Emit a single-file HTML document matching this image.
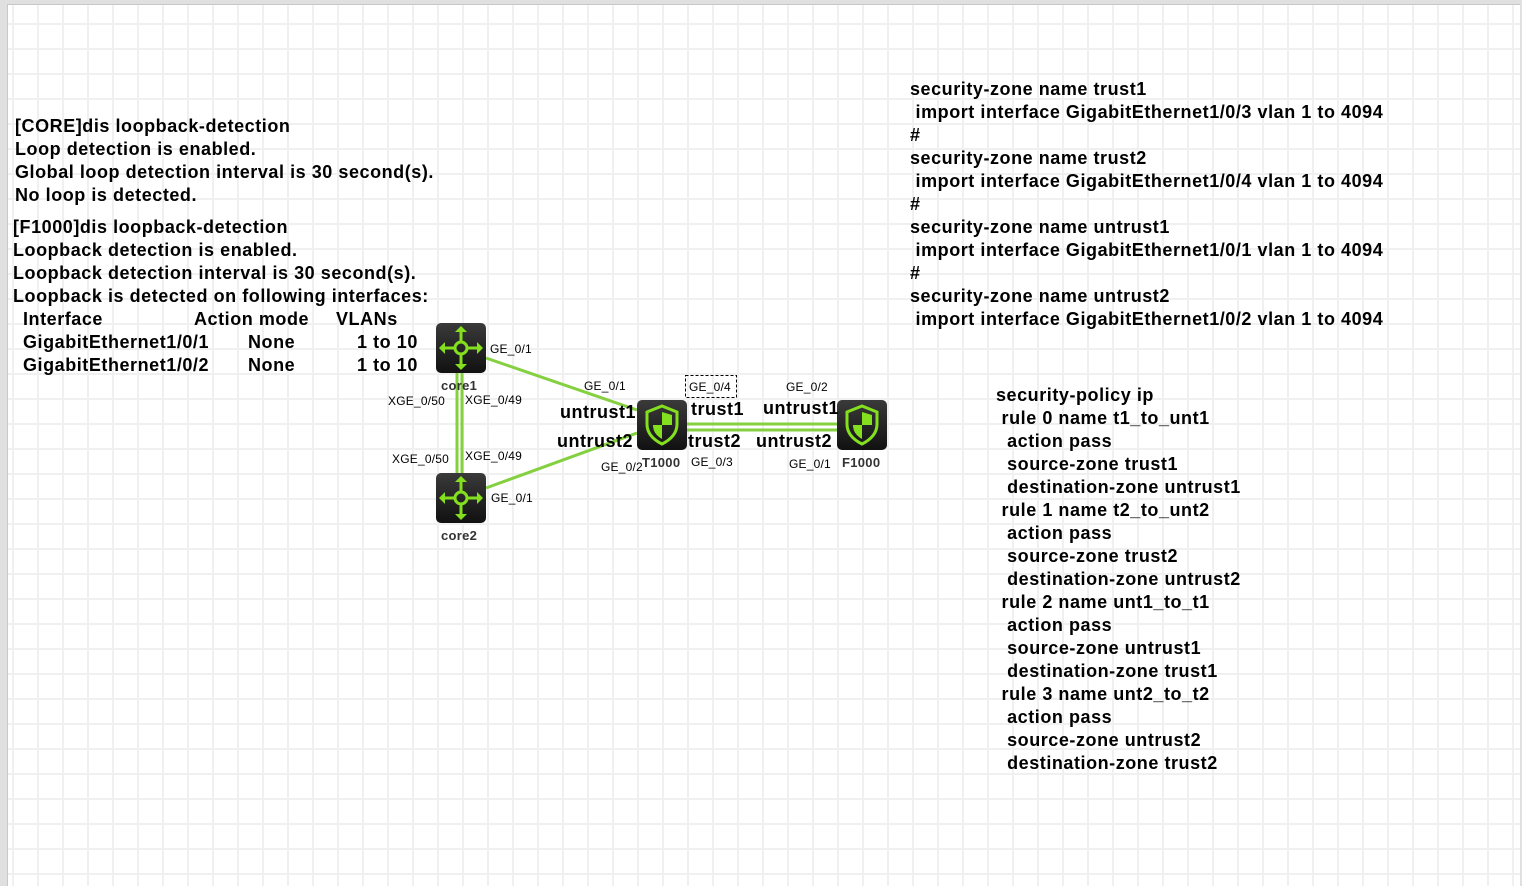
<!DOCTYPE html>
<html><head><meta charset="utf-8"><style>
html,body{margin:0;padding:0}
body{width:1522px;height:885px;background:#e0e0e0;position:relative;overflow:hidden;font-family:"Liberation Sans",sans-serif}
#pg{position:absolute;left:7px;top:4px;width:1512px;height:881px;background-color:#fff;border-left:1px solid #c8c8c8;border-top:1px solid #c8c8c8;
background-image:linear-gradient(to right,#f0f0f0 2px,transparent 2px),linear-gradient(to bottom,#f0f0f0 2px,transparent 2px);
background-size:25px 25px;background-position:4px 18px}
.t{position:absolute;font-weight:bold;font-size:18px;line-height:23px;color:#000;white-space:pre;letter-spacing:0.55px}
.s{position:absolute;font-size:12px;color:#000;white-space:pre;line-height:14px;letter-spacing:0.2px}
.n{position:absolute;font-size:13px;font-weight:bold;color:#333;white-space:pre;letter-spacing:0.3px}
.b{position:absolute;font-weight:bold;font-size:18px;color:#000;white-space:pre;line-height:20px;letter-spacing:0.5px}
</style></head><body>
<div id="pg"></div>
<svg style="position:absolute;left:0;top:0" width="1522" height="885">
<defs><linearGradient id="g" x1="0" y1="0" x2="0" y2="1"><stop offset="0" stop-color="#3a3a3a"/><stop offset="1" stop-color="#111"/></linearGradient>
<g id="sw"><rect x="0" y="0" width="50" height="50" rx="5" fill="url(#g)"/>
<g stroke="#84e01f" stroke-width="3" fill="none"><circle cx="25" cy="25" r="6"/>
<path d="M25 19V7M25 31V43M19 25H7M31 25H43"/></g>
<g fill="#84e01f"><path d="M25 3l-6 6h12z"/><path d="M25 47l-6-6h12z"/><path d="M3 25l6-6v12z"/><path d="M47 25l-6-6v12z"/></g></g>
<g id="fw"><rect x="0" y="0" width="50" height="50" rx="5" fill="url(#g)"/>
<path d="M25 6l15 6v12c0 10-7 16-15 20c-8-4-15-10-15-20V12z" fill="none" stroke="#84e01f" stroke-width="3"/>
<path d="M25 12v13h10v-10z" fill="#84e01f"/><path d="M25 25v14c-5-3-9-7-9-14z" fill="#84e01f"/></g></defs>
<g stroke="#84d040" stroke-width="3">
<line x1="486" y1="358" x2="637" y2="410"/>
<line x1="486" y1="488" x2="637" y2="433"/>
<line x1="457" y1="373" x2="457" y2="473"/>
<line x1="462" y1="373" x2="462" y2="473"/>
<line x1="687" y1="424" x2="837" y2="424"/>
<line x1="687" y1="430" x2="837" y2="430"/>
</g>
<use href="#sw" x="436" y="323"/><use href="#sw" x="436" y="473"/>
<use href="#fw" x="637" y="400"/><use href="#fw" x="837" y="400"/>
<rect x="685.5" y="375.5" width="51" height="22" fill="none" stroke="#000" stroke-dasharray="3,2"/>
</svg>
<div class="t" style="left:15px;top:115px">[CORE]dis loopback-detection
Loop detection is enabled.
Global loop detection interval is 30 second(s).
No loop is detected.</div>
<div class="t" style="left:13px;top:216px">[F1000]dis loopback-detection
Loopback detection is enabled.
Loopback detection interval is 30 second(s).
Loopback is detected on following interfaces:</div>
<div class="t" style="left:23px;top:308px">Interface
GigabitEthernet1/0/1
GigabitEthernet1/0/2</div>
<div class="t" style="left:194px;top:308px">Action mode</div>
<div class="t" style="left:248px;top:331px">None
None</div>
<div class="t" style="left:336px;top:308px">VLANs</div>
<div class="t" style="left:357px;top:331px">1 to 10
1 to 10</div>
<div class="t" style="left:910px;top:78px">security-zone name trust1
 import interface GigabitEthernet1/0/3 vlan 1 to 4094
#
security-zone name trust2
 import interface GigabitEthernet1/0/4 vlan 1 to 4094
#
security-zone name untrust1
 import interface GigabitEthernet1/0/1 vlan 1 to 4094
#
security-zone name untrust2
 import interface GigabitEthernet1/0/2 vlan 1 to 4094</div>
<div class="t" style="left:996px;top:384px">security-policy ip
 rule 0 name t1_to_unt1
  action pass
  source-zone trust1
  destination-zone untrust1
 rule 1 name t2_to_unt2
  action pass
  source-zone trust2
  destination-zone untrust2
 rule 2 name unt1_to_t1
  action pass
  source-zone untrust1
  destination-zone trust1
 rule 3 name unt2_to_t2
  action pass
  source-zone untrust2
  destination-zone trust2</div>
<div class="s" style="left:490px;top:342px">GE_0/1</div>
<div class="s" style="left:584px;top:379px">GE_0/1</div>
<div class="s" style="left:388px;top:394px">XGE_0/50</div>
<div class="s" style="left:465px;top:393px">XGE_0/49</div>
<div class="s" style="left:392px;top:452px">XGE_0/50</div>
<div class="s" style="left:465px;top:449px">XGE_0/49</div>
<div class="s" style="left:491px;top:491px">GE_0/1</div>
<div class="s" style="left:601px;top:460px">GE_0/2</div>
<div class="s" style="left:689px;top:380px">GE_0/4</div>
<div class="s" style="left:786px;top:380px">GE_0/2</div>
<div class="s" style="left:691px;top:455px">GE_0/3</div>
<div class="s" style="left:789px;top:457px">GE_0/1</div>
<div class="n" style="left:441px;top:378px">core1</div>
<div class="n" style="left:441px;top:528px">core2</div>
<div class="n" style="left:642px;top:455px">T1000</div>
<div class="n" style="left:842px;top:455px">F1000</div>
<div class="b" style="left:560px;top:402px">untrust1</div>
<div class="b" style="left:557px;top:431px">untrust2</div>
<div class="b" style="left:691px;top:399px">trust1</div>
<div class="b" style="left:688px;top:431px">trust2</div>
<div class="b" style="left:763px;top:398px">untrust1</div>
<div class="b" style="left:756px;top:431px">untrust2</div>
</body></html>
